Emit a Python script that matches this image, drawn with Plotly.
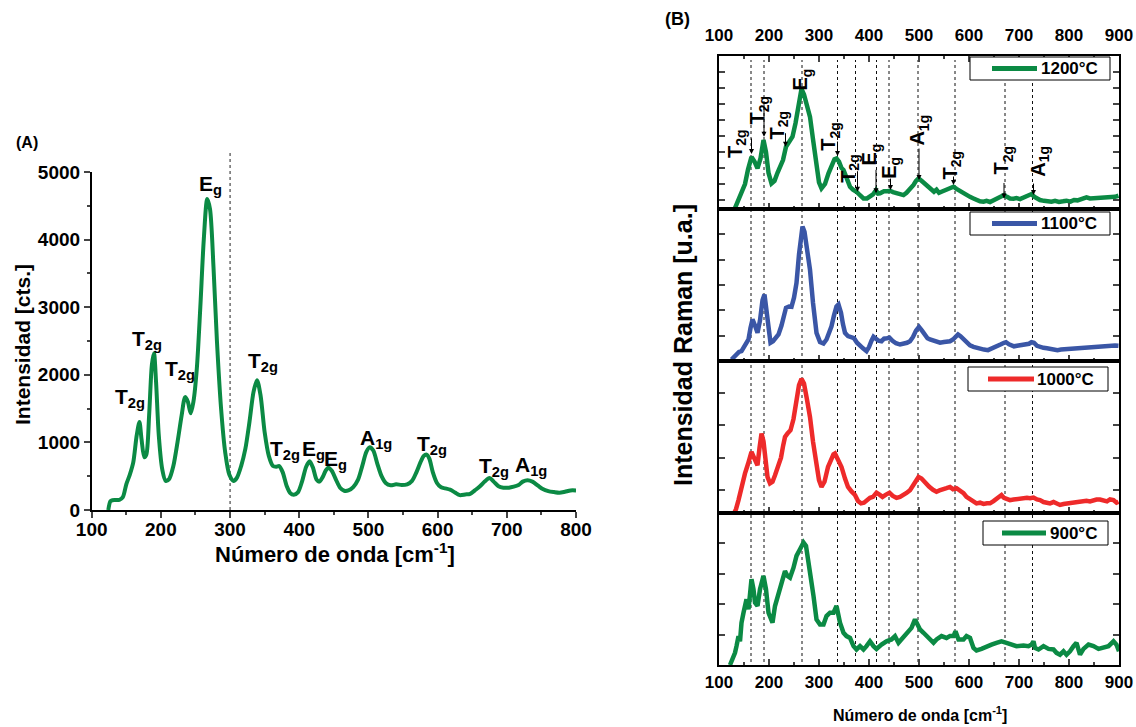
import plotly.graph_objects as go

W, H = 1136, 727
FONT = "Liberation Sans, Arial, sans-serif"

# ---------------- Panel A data ----------------
a_x = [124, 127, 130, 140, 145, 150, 155, 160, 165, 169, 172, 176, 179, 183, 187, 190, 193, 197, 202, 207,
       212, 218, 224, 230, 235, 239, 243, 247, 252, 257, 262, 267, 271, 276, 281, 287, 293, 299, 305, 310,
       316, 322, 328, 334, 339, 344, 350, 356, 362, 367, 371, 376, 382, 387, 392, 398, 404, 410, 415, 420,
       425, 429, 434, 438, 442, 447, 453, 459, 465, 471, 478, 485, 491, 497, 502, 507, 513, 519, 525, 532,
       540, 548, 556, 563, 569, 575, 580, 584, 588, 593, 599, 605, 611, 618, 625, 632, 640, 647, 655, 662,
       668, 675, 681, 688, 695, 703, 710, 717, 723, 730, 737, 745, 752, 760, 768, 776, 784, 792, 800]
a_y = [0, 130, 145, 150, 190, 380, 520, 700, 1100, 1300, 1050, 780, 820, 1400, 2150, 2320, 1900, 1100, 600, 430,
       460, 650, 1000, 1400, 1670, 1600, 1430, 1600, 2100, 3000, 4000, 4600, 4450, 3600, 2500, 1500, 850, 520, 430, 480,
       650, 900, 1300, 1750, 1920, 1700, 1150, 800, 650, 640, 650, 560, 350, 250, 225, 260, 420, 640, 720, 620,
       450, 420, 490, 580, 625, 580, 450, 330, 285, 290, 340, 450, 650, 860, 930, 880, 680, 500, 400, 365,
       380, 370, 380, 430, 550, 700, 800, 820, 760, 560, 400, 335, 320, 300, 260, 220, 230, 240, 300, 360,
       420, 475, 420, 350, 330, 330, 345, 370, 420, 440, 420, 360, 310, 280, 265, 255, 270, 290, 290]

a_labels = ["T<sub>2g</sub>", "T<sub>2g</sub>", "T<sub>2g</sub>", "E<sub>g</sub>", "T<sub>2g</sub>",
            "T<sub>2g</sub>", "E<sub>g</sub>", "E<sub>g</sub>", "A<sub>1g</sub>", "T<sub>2g</sub>",
            "T<sub>2g</sub>", "A<sub>1g</sub>"]
a_lab_x = [155, 180, 228, 271, 347, 380, 421, 453, 511, 592, 682, 735]
a_lab_y = [1657, 2515, 2071, 4808, 2189, 885, 895, 746, 1045, 960, 637, 652]

# ---------------- Panel B data ----------------
b1200_x = [128, 137, 145, 152, 158, 165, 171, 177, 183, 189, 194, 199, 205, 211, 217, 222, 228, 234, 240, 247,
           253, 259, 265, 270, 276, 282, 288, 295, 300, 305, 312, 319, 326, 331, 335, 340, 345, 349, 355, 362,
           368, 375, 382, 389, 396, 402, 408, 414, 418, 422, 430, 437, 442, 448, 455, 462, 469, 475, 482, 489,
           494, 499, 505, 510, 515, 520, 525, 530, 535, 540, 545, 550, 556, 562, 569, 575, 582, 589, 595, 602,
           609, 615, 622, 629, 635, 642, 649, 655, 662, 670, 676, 682, 689, 695, 702, 708, 715, 720, 725, 731,
           737, 742, 750, 758, 765, 772, 780, 788, 795, 803, 810, 817, 823, 830, 835, 842, 850, 857, 864, 871,
           878, 885, 892, 899]
b1200_y = [0.2, 0.9, 1.42, 2.0, 2.9, 3.7, 3.4, 2.98, 3.6, 4.75, 4.0, 2.7, 2.04, 2.2, 2.7, 3.08, 3.5, 4.33, 4.6, 4.96,
           5.8, 7.0, 7.95, 7.6, 6.9, 6.2, 4.8, 3.08, 2.1, 1.73, 2.0, 2.67, 3.2, 3.55, 3.6, 3.4, 3.0, 2.88, 2.4, 1.83,
           1.65, 1.52, 1.3, 1.1, 1.1, 1.2, 1.35, 1.62, 1.4, 1.42, 1.55, 1.55, 1.58, 1.5, 1.45, 1.4, 1.31, 1.45, 1.65, 1.94,
           2.2, 2.35, 2.2, 2.05, 1.94, 1.75, 1.6, 1.52, 1.65, 1.45, 1.52, 1.6, 1.7, 1.78, 1.83, 1.7, 1.55, 1.42, 1.3, 1.2,
           1.1, 1.0, 0.92, 0.9, 0.95, 0.88, 1.0, 1.05, 1.15, 1.31, 1.2, 1.1, 1.08, 1.12, 1.06, 1.15, 1.2, 1.3, 1.375, 1.2,
           1.1, 1.0, 0.95, 0.92, 0.9, 0.95, 0.88, 0.92, 0.96, 0.9, 1.0, 0.98, 1.05, 1.1, 1.17, 1.1, 1.12, 1.08, 1.12, 1.15,
           1.12, 1.18, 1.2, 1.27]

b1100_x = [125, 133, 140, 145, 152, 159, 163, 167, 172, 177, 182, 187, 191, 195, 199, 203, 208, 213, 219, 225,
           230, 234, 240, 245, 250, 255, 260, 264, 267, 271, 276, 282, 288, 295, 302, 309, 315, 320, 325, 330,
           335, 339, 344, 348, 352, 358, 365, 370, 376, 382, 388, 395, 400, 405, 409, 414, 419, 425, 430, 436,
           441, 447, 454, 462, 470, 476, 482, 488, 494, 500, 506, 512, 517, 522, 530, 537, 542, 550, 556, 562,
           568, 573, 578, 583, 589, 595, 602, 609, 615, 622, 630, 638, 645, 651, 657, 664, 670, 674, 680, 685,
           690, 696, 702, 708, 714, 720, 725, 730, 736, 742, 749, 756, 763, 770, 777, 784, 791, 798, 805, 812,
           820, 828, 836, 844, 852, 860, 868, 876, 884, 892, 899]
b1100_y = [0.06, 0.25, 0.36, 0.39, 0.6, 0.85, 1.3, 1.64, 1.4, 1.11, 1.6, 2.4, 2.62, 2.0, 1.1, 0.72, 0.78, 0.9, 1.05, 1.4,
           1.85, 2.1, 2.15, 2.14, 2.5, 3.08, 4.2, 5.0, 5.31, 5.1, 4.5, 3.6, 2.3, 1.11, 0.75, 0.69, 0.85, 1.1, 1.37, 1.8,
           2.15, 2.23, 1.9, 1.45, 1.11, 0.98, 0.94, 0.9, 0.72, 0.59, 0.5, 0.39, 0.55, 0.8, 0.96, 0.88, 0.8, 0.78, 0.88, 0.9,
           0.92, 0.8, 0.7, 0.65, 0.68, 0.72, 0.78, 0.95, 1.2, 1.35, 1.2, 1.0, 0.9, 0.85, 0.78, 0.73, 0.72, 0.75, 0.76, 0.78,
           0.85, 0.98, 1.05, 0.98, 0.85, 0.72, 0.62, 0.56, 0.52, 0.48, 0.45, 0.43, 0.48, 0.55, 0.6, 0.66, 0.72, 0.74, 0.66, 0.6,
           0.58, 0.6, 0.62, 0.61, 0.64, 0.68, 0.74, 0.72, 0.6, 0.55, 0.52, 0.5, 0.47, 0.44, 0.43, 0.45, 0.46, 0.47, 0.48, 0.5,
           0.5, 0.52, 0.53, 0.55, 0.56, 0.59, 0.58, 0.6, 0.6, 0.61, 0.6]

b1000_x = [128, 134, 139, 145, 152, 158, 162, 165, 170, 174, 177, 181, 185, 189, 193, 197, 202, 207, 212, 218,
           224, 228, 232, 237, 243, 249, 255, 260, 265, 270, 276, 282, 288, 295, 300, 305, 311, 318, 324, 329,
           332, 338, 345, 352, 358, 365, 372, 378, 384, 390, 396, 402, 408, 415, 421, 427, 434, 441, 447, 455,
           462, 468, 475, 482, 488, 494, 499, 505, 510, 515, 520, 528, 535, 541, 548, 555, 562, 568, 575, 582,
           589, 595, 602, 609, 615, 622, 629, 636, 642, 649, 655, 660, 665, 670, 676, 682, 689, 696, 703, 709,
           716, 722, 729, 736, 742, 749, 755, 762, 769, 776, 782, 789, 796, 802, 809, 816, 822, 829, 835, 842,
           849, 855, 862, 869, 876, 882, 889, 895, 899]
b1000_y = [0.2, 0.4, 0.68, 1.1, 1.51, 1.8, 2.1, 2.18, 2.0, 1.85, 1.76, 2.3, 2.75, 2.5, 1.9, 1.4, 1.2, 1.25, 1.45, 1.71,
           2.0, 2.35, 2.64, 2.75, 2.85, 3.2, 3.8, 4.25, 4.45, 4.3, 3.8, 3.26, 2.5, 1.71, 1.3, 1.09, 1.25, 1.71, 1.95, 2.1,
           2.13, 1.95, 1.71, 1.35, 1.09, 0.95, 0.84, 0.65, 0.58, 0.6, 0.7, 0.75, 0.78, 0.91, 0.85, 0.78, 0.85, 0.91, 0.82, 0.75,
           0.78, 0.82, 0.9, 0.99, 1.15, 1.3, 1.4, 1.35, 1.25, 1.2, 1.1, 1.0, 0.94, 0.98, 1.0, 1.05, 1.09, 1.02, 1.05, 0.98,
           0.9, 0.78, 0.7, 0.62, 0.58, 0.6, 0.56, 0.58, 0.58, 0.65, 0.72, 0.8, 0.84, 0.75, 0.7, 0.68, 0.7, 0.72, 0.72, 0.73,
           0.75, 0.74, 0.76, 0.7, 0.68, 0.62, 0.6, 0.58, 0.62, 0.55, 0.53, 0.56, 0.58, 0.6, 0.6, 0.63, 0.64, 0.65, 0.66, 0.64,
           0.68, 0.7, 0.7, 0.66, 0.64, 0.7, 0.68, 0.6, 0.63]

b900_x = [122, 132, 135, 139, 142, 145, 149, 152, 155, 159, 162, 165, 169, 172, 177, 182, 189, 194, 199, 203,
          207, 212, 219, 225, 232, 237, 242, 249, 255, 262, 269, 274, 279, 283, 289, 295, 302, 309, 315, 322,
          329, 335, 342, 349, 355, 362, 369, 375, 382, 389, 395, 402, 409, 415, 425, 435, 445, 452, 459, 465,
          472, 479, 485, 492, 495, 502, 509, 519, 529, 535, 545, 555, 562, 569, 573, 579, 589, 595, 602, 609,
          615, 625, 635, 645, 655, 665, 675, 685, 695, 709, 719, 725, 729, 732, 739, 749, 759, 769, 775, 782,
          789, 795, 802, 809, 815, 822, 829, 839, 849, 859, 869, 879, 889, 895, 900]
b900_y = [0.0, 0.4, 0.62, 0.95, 0.78, 1.39, 1.72, 2.05, 2.16, 1.83, 2.49, 2.82, 2.49, 2.05, 1.94, 2.49, 2.93, 2.49, 1.72, 1.5,
          1.39, 1.94, 2.38, 2.71, 3.09, 2.93, 2.87, 3.2, 3.59, 3.81, 4.03, 3.92, 3.48, 2.93, 2.27, 1.5, 1.33, 1.33, 1.61, 1.72,
          1.72, 1.94, 1.39, 1.06, 0.95, 0.89, 0.62, 0.51, 0.62, 0.51, 0.62, 0.78, 0.62, 0.53, 0.67, 0.78, 0.84, 0.95, 0.73, 0.84,
          0.95, 1.06, 1.22, 1.5, 1.39, 1.17, 1.06, 0.89, 0.73, 0.84, 0.95, 0.89, 0.95, 0.95, 1.11, 0.84, 0.84, 0.95, 0.89, 0.56,
          0.48, 0.53, 0.62, 0.67, 0.73, 0.78, 0.73, 0.67, 0.62, 0.64, 0.62, 0.67, 0.78, 0.56, 0.51, 0.62, 0.53, 0.51, 0.4, 0.34,
          0.45, 0.34, 0.45, 0.62, 0.73, 0.34, 0.53, 0.67, 0.62, 0.53, 0.56, 0.62, 0.78, 0.67, 0.45]

b_lines = [164, 190, 266, 337, 373, 415, 440, 498, 572, 672, 727]

b_lab_text = ["T<sub>2g</sub>", "T<sub>2g</sub>", "T<sub>2g</sub>", "E<sub>g</sub>", "T<sub>2g</sub>",
              "T<sub>2g</sub>", "E<sub>g</sub>", "E<sub>g</sub>", "A<sub>1g</sub>", "T<sub>2g</sub>",
              "T<sub>2g</sub>", "A<sub>1g</sub>"]
b_lab_x = [135, 179, 219, 265, 322, 361, 403, 443, 499, 565, 667, 742]
b_lab_y = [4.54, 6.62, 5.69, 8.5, 4.96, 2.98, 3.81, 2.98, 5.37, 3.19, 3.5, 3.39]

arr_x = [165, 190, 233, 337, 377, 414, 443, 500, 569, 670, 729]
arr_y = [3.88, 4.96, 4.33, 3.75, 1.52, 1.42, 1.62, 2.25, 1.94, 1.1, 1.31]
arr_len = [17, 34, 15, 16, 22, 25, 13, 33, 10, 17, 13]

GREEN = "#0b8a44"
BLUE = "#3a56a6"
RED = "#ee2a2a"


def X(px):
    return px / W


def Y(py):
    return 1 - py / H


fig = go.Figure()

fig.add_trace(go.Scatter(x=a_x, y=a_y, mode="lines", line=dict(color=GREEN, width=4, shape="spline", smoothing=0.8),
                         xaxis="x", yaxis="y", showlegend=False))
series = [(b1200_x, b1200_y, GREEN, "2"), (b1100_x, b1100_y, BLUE, "3"),
          (b1000_x, b1000_y, RED, "4"), (b900_x, b900_y, GREEN, "5")]
for xs, ys, col, k in series:
    fig.add_trace(go.Scatter(x=xs, y=ys, mode="lines", line=dict(color=col, width=4.5),
                             xaxis="x" + k, yaxis="y" + k, showlegend=False))

tickfont_a = dict(family=FONT, size=19, color="black", weight="bold")
tickfont_b = dict(family=FONT, size=17, color="black", weight="bold")

layout = dict(
    width=W, height=H, margin=dict(l=0, r=0, t=0, b=0, autoexpand=False), autosize=False,
    paper_bgcolor="white", plot_bgcolor="white", font=dict(family=FONT, color="black"),
    xaxis=dict(domain=[X(91.7), X(576)], anchor="y", range=[100, 800], dtick=100, tick0=0,
               showline=True, linecolor="black", linewidth=1.5, ticks="outside", ticklen=6, tickwidth=1.5,
               minor=dict(ticks="outside", ticklen=3, tickwidth=1.5, dtick=50, tick0=0),
               tickfont=tickfont_a, showgrid=False, zeroline=False, automargin=False, ticklabelstandoff=-5),
    yaxis=dict(domain=[Y(510), Y(172)], anchor="x", range=[0, 5000], dtick=1000, tick0=0,
               showline=True, linecolor="black", linewidth=1.5, ticks="outside", ticklen=6, tickwidth=1.5,
               minor=dict(ticks="outside", ticklen=3, tickwidth=1.5, dtick=500, tick0=0),
               tickfont=tickfont_a, showgrid=False, zeroline=False, automargin=False),
)

b_domains = {"2": [Y(209), Y(56)], "3": [Y(361), Y(209)], "4": [Y(513), Y(361)], "5": [Y(665), Y(513)]}
b_ranges = {"2": [0.44, 10], "3": [0, 6], "4": [0.28, 5], "5": [0, 5]}
for k in ["2", "3", "4", "5"]:
    xa = dict(domain=[X(719), X(1119)], anchor="y" + k, range=[100, 900], dtick=100, tick0=0,
              showline=True, linecolor="black", linewidth=1.5, ticks="inside", ticklen=6, tickwidth=1.5,
              minor=dict(ticks="inside", ticklen=3, tickwidth=1.5, dtick=50, tick0=0),
              tickfont=tickfont_b, showgrid=False, zeroline=False, showticklabels=False, mirror=True,
              automargin=False)
    if k == "2":
        xa.update(side="top", mirror="allticks", showticklabels=True, ticklabelstandoff=6)
    if k == "5":
        xa.update(showticklabels=True, ticklabelstandoff=1)
    layout["xaxis" + k] = xa
    layout["yaxis" + k] = dict(domain=b_domains[k], anchor="x" + k, range=b_ranges[k], dtick=1, tick0=0,
                               showline=True, linecolor="black", linewidth=1.5, ticks="inside", ticklen=6,
                               tickwidth=1.5, mirror="allticks", showticklabels=False, showgrid=False,
                               zeroline=False, automargin=False)
fig.update_layout(**layout)

shapes = []
# dotted line in panel A
shapes.append(dict(type="line", xref="x", yref="paper", x0=300, x1=300, y0=Y(510), y1=Y(152),
                   line=dict(color="#222", width=1, dash="dot"), layer="below"))
for v in b_lines:
    shapes.append(dict(type="line", xref="x2", yref="paper", x0=v, x1=v, y0=Y(662), y1=Y(60),
                       line=dict(color="#111", width=1, dash="dot"), layer="below"))

# legend boxes (panel B)
leg = [("1200°C", GREEN, (970, 57, 1110, 80), (992, 1037), 1039),
       ("1100°C", BLUE, (970, 212, 1110, 235), (992, 1037), 1039),
       ("1000°C", RED, (968, 367, 1108, 391), (988, 1034), 1035),
       ("900°C", GREEN, (983, 521, 1108, 545), (1002, 1046), 1048)]
annotations = []
for txt, col, (x0, y0, x1, y1), (l0, l1), tx in leg:
    shapes.append(dict(type="rect", xref="paper", yref="paper", x0=X(x0), x1=X(x1), y0=Y(y1), y1=Y(y0),
                       fillcolor="white", line=dict(color="black", width=1), layer="above"))
    ym = (y0 + y1) / 2
    shapes.append(dict(type="line", xref="paper", yref="paper", x0=X(l0), x1=X(l1), y0=Y(ym), y1=Y(ym),
                       line=dict(color=col, width=5), layer="above"))
    annotations.append(dict(text="<b>" + txt + "</b>", xref="paper", yref="paper", x=X(tx), y=Y(ym),
                            xanchor="left", yanchor="middle", showarrow=False,
                            font=dict(family=FONT, size=17, color="black")))

fig.update_layout(shapes=shapes)

# panel A peak labels
for t, xv, yv in zip(a_labels, a_lab_x, a_lab_y):
    annotations.append(dict(text="<b>" + t + "</b>", xref="x", yref="y", x=xv, y=yv, showarrow=False,
                            xanchor="center", yanchor="middle",
                            font=dict(family=FONT, size=21, color="black")))

# panel B peak labels (rotated) and arrows
for t, xv, yv in zip(b_lab_text, b_lab_x, b_lab_y):
    annotations.append(dict(text="<b>" + t + "</b>", xref="x2", yref="y2", x=xv, y=yv, showarrow=False,
                            xanchor="center", yanchor="middle",
                            textangle=-90, font=dict(family=FONT, size=20, color="black")))
for xv, yv, ln in zip(arr_x, arr_y, arr_len):
    annotations.append(dict(text="", xref="x2", yref="y2", x=xv, y=yv, showarrow=True, ax=0, ay=-ln,
                            arrowhead=2, arrowsize=1, arrowwidth=1, arrowcolor="black", standoff=0))

# titles and panel letters
C = dict(xref="paper", yref="paper", showarrow=False, xanchor="center", yanchor="middle")
annotations += [
    dict(text="<b>(A)</b>", x=X(27), y=Y(142), font=dict(family=FONT, size=16), **C),
    dict(text="<b>(B)</b>", x=X(677), y=Y(19), font=dict(family=FONT, size=18), **C),
    dict(text="<b>Intensidad [cts.]</b>", x=X(22), y=Y(345), textangle=-90,
         font=dict(family=FONT, size=21), **C),
    dict(text="<b>Número de onda [cm<sup>-1</sup>]</b>", x=X(335), y=Y(553),
         font=dict(family=FONT, size=22), **C),
    dict(text="<b>Intensidad Raman [u.a.]</b>", x=X(683), y=Y(345), textangle=-90,
         font=dict(family=FONT, size=25), **C),
    dict(text="<b>Número de onda [cm<sup>-1</sup>]</b>", x=X(920), y=Y(714),
         font=dict(family=FONT, size=16), **C),
]
fig.update_layout(annotations=annotations)

fig.write_html("out.html")
